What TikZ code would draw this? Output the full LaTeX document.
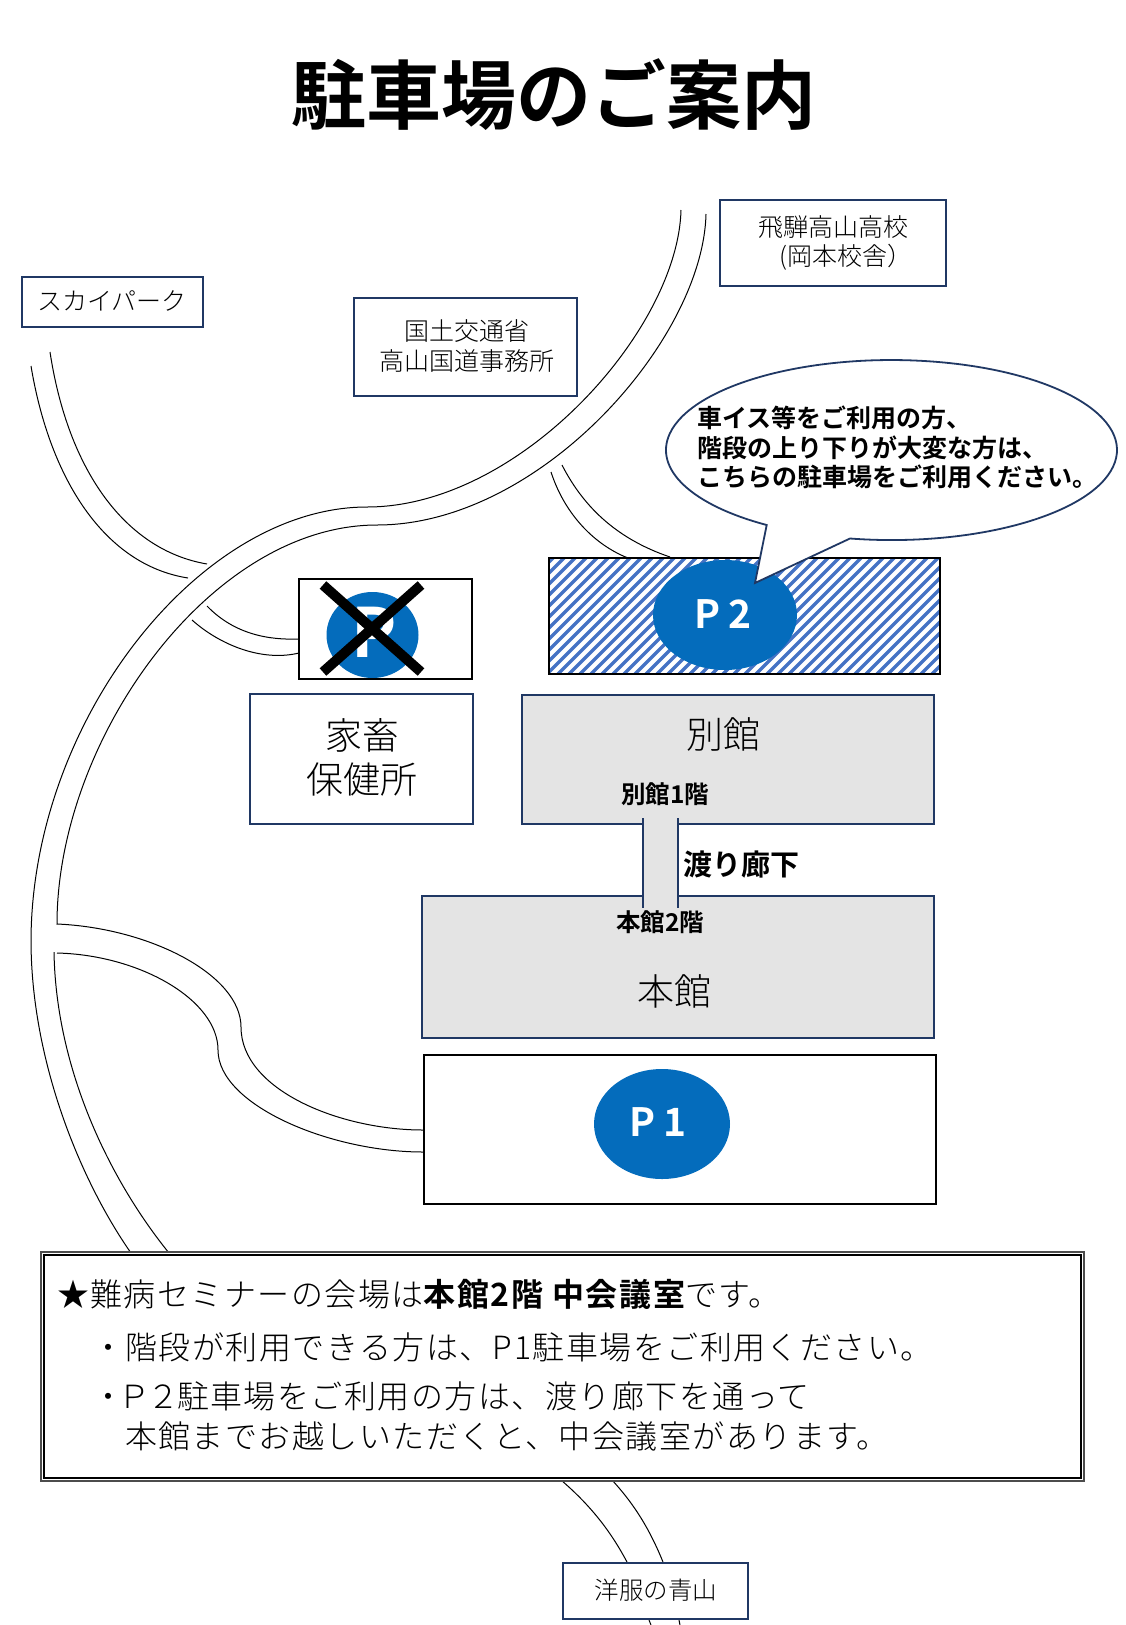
\documentclass[tikz,border=0pt]{standalone}
\usepackage{fontspec}
\setmainfont{Noto Sans CJK JP}
\newfontfamily\jplight{Noto Sans CJK JP Light}
\newfontfamily\jpsp[LetterSpace=4.6]{Noto Sans CJK JP Light}
\newfontfamily\jpbold{Noto Sans CJK JP Bold}
\newfontfamily\jpbsp[LetterSpace=5]{Noto Sans CJK JP Bold}
\definecolor{navy}{HTML}{203864}
\definecolor{pblue}{HTML}{046CBC}
\definecolor{hatchblue}{HTML}{4472C4}
\definecolor{bgray}{HTML}{E4E4E4}
\newcommand{\fs}[1]{\fontsize{#1}{#1}\selectfont}
\tikzset{
  road/.style={draw=black,line width=1pt},
  navybox/.style={draw=navy,line width=2pt,fill=white},
  blackbox/.style={draw=black,line width=2pt,fill=white},
  building/.style={draw=navy,line width=2pt,fill=bgray},
  pcircle/.style={fill=pblue},
  txt/.style={inner sep=0pt,outer sep=0pt,align=center,text=black},
  btxt/.style={inner sep=0pt,outer sep=0pt,anchor=base west,text=black},
  ptxt/.style={inner sep=0pt,outer sep=0pt,text=white},
}
\begin{document}
\begin{tikzpicture}[x=1pt,y=-1pt]
\useasboundingbox[fill=white] (0,0) rectangle (1125,1625);
% title
\node[txt,font=\jpbold\fs{75}] (title) at (554,95) {駐車場のご案内};
% roads
\draw[road] (681,210) .. controls (678,330) and (520,507) .. (367,507)
  .. controls (200,507) and (32,720) .. (31,940)
  .. controls (31,1060) and (80,1180) .. (131,1253);
\draw[road] (706,214) .. controls (703,340) and (540,525) .. (377,525)
  .. controls (210,525) and (57,740) .. (57,924)
  .. controls (150,928) and (241,975) .. (241,1027)
  .. controls (241,1090) and (340,1130) .. (423,1130);
\draw[road] (54,952) .. controls (56,1070) and (110,1180) .. (169,1253);
\draw[road] (57,953) .. controls (140,955) and (218,1000) .. (218,1050)
  .. controls (218,1105) and (330,1152) .. (423,1152);
\draw[road] (31,366) .. controls (50,480) and (105,565) .. (188,578);
\draw[road] (50,352) .. controls (68,470) and (125,550) .. (207,564);
\draw[road] (207,606) .. controls (235,635) and (270,640) .. (298,639);
\draw[road] (192,620) .. controls (220,645) and (262,662) .. (299,653);
\draw[road] (551,472) .. controls (565,515) and (595,545) .. (628,558);
\draw[road] (562,465) .. controls (585,510) and (620,540) .. (670,557);
\draw[road] (561,1480) .. controls (590,1505) and (610,1530) .. (627,1562);
\draw[road] (612,1480) .. controls (635,1505) and (650,1530) .. (663,1562);
\draw[road] (649,1620) -- (651,1625);
\draw[road] (679,1620) -- (680,1625);
% label boxes
\draw[navybox] (720,200) rectangle (946,286);
\node[txt,font=\jplight\fs{25}] (hida1) at (833,227) {飛騨高山高校};
\node[txt,font=\jplight\fs{25}] (hida2) at (846,257) {(岡本校舎）};
\draw[navybox] (22,277) rectangle (203,327);
\node[txt,font=\jplight\fs{25}] (sky) at (112,301) {スカイパーク};
\draw[navybox] (354,298) rectangle (577,396);
\node[txt,font=\jplight\fs{25}] (koku1) at (467,331) {国土交通省};
\node[txt,font=\jplight\fs{25}] (koku2) at (467,361) {高山国道事務所};
\draw[navybox] (563,1563) rectangle (748,1619);
\node[txt,font=\jplight\fs{24.5}] (yofuku) at (656,1590) {洋服の青山};
% P2 hatch
\begin{scope}
\clip (549,558) rectangle (940,674);
\fill[white] (549,558) rectangle (940,674);
\foreach \i in {0,...,49}{
  \draw[hatchblue,line width=3.4pt] ({420+\i*11},680) -- ({420+\i*11+130},550);
}
\end{scope}
\draw[draw=black,line width=2pt] (549,558) rectangle (940,674);
\fill[pcircle] (725,615) ellipse [x radius=72,y radius=55];
\node[ptxt,font=\jpbold\fs{39}] (p2) at (723,614) {P\hspace{8pt}2};
% callout
\draw[draw=navy,line width=1.8pt,fill=white,line join=miter]
  (755,583) -- (850,538.5)
  arc [start angle=100.6,end angle=-236.4,x radius=225.5,y radius=90] -- cycle;
\node[btxt,font=\jpbold\fs{25}] (call1) at (697,427) {車イス等をご利用の方、};
\node[btxt,font=\jpbold\fs{25}] (call2) at (697,457) {階段の上り下りが大変な方は、};
\node[btxt,font=\jpbold\fs{25}] (call3) at (697,486) {こちらの駐車場をご利用ください。};
% closed lot
\draw[blackbox] (299,579) rectangle (472,679);
\begin{scope}
\clip (299,579) rectangle (472,679);
\fill[pcircle] (372.5,635) ellipse [x radius=46,y radius=43];
\end{scope}
\node[ptxt,font=\jpbold\fs{68}] (pno) at (374,632) {P};
\draw[black,line width=10pt] (323,585) -- (421,672);
\draw[black,line width=10pt] (421,585) -- (323,672);
\draw[blackbox,fill=none] (299,579) rectangle (472,679);
% buildings
\draw[navybox] (250,694) rectangle (473,824);
\node[txt,font=\jplight\fs{37}] (kachiku1) at (362,735) {家畜};
\node[txt,font=\jplight\fs{37}] (kachiku2) at (362,780) {保健所};
\draw[building] (522,695) rectangle (934,824);
\node[txt,font=\jplight\fs{37}] (bekkan) at (723,734) {別館};
\draw[building] (422,896) rectangle (934,1038);
\node[txt,font=\jplight\fs{37}] (honkan) at (674,991) {本館};
% corridor
\fill[bgray] (643,818) rectangle (678,908);
\draw[navy,line width=2pt] (643,818) -- (643,908);
\draw[navy,line width=2pt] (678,818) -- (678,908);
\node[txt,font=\jpbold\fs{24.5}] (b1f) at (665,794) {別館1階};
\node[txt,font=\jpbold\fs{24.5}] (h2f) at (660,922) {本館2階};
\node[btxt,font=\jpbold\fs{29}] (wata) at (683,875) {渡り廊下};
% P1
\draw[blackbox] (424,1055) rectangle (936,1204);
\fill[pcircle] (662,1124) ellipse [x radius=68,y radius=55];
\node[ptxt,font=\jpbold\fs{39}] (p1) at (658,1122) {P\hspace{8pt}1};
% notice box
\draw[draw=black!70,line width=1.2pt,fill=white] (41,1252) rectangle (1084,1481);
\draw[draw=black,line width=1.2pt] (44,1255) rectangle (1081,1478);
\node[btxt,font=\jpsp\fs{32}] (n1) at (57,1306) {★難病セミナーの会場は{\jpbsp 本館2階 中会議室}です。};
\node[btxt,font=\jpsp\fs{32}] (n2) at (92,1359) {・階段が利用できる方は、P1駐車場をご利用ください。};
\node[btxt,font=\jpsp\fs{32}] (n3) at (92,1408) {・\kern-6ptＰ\kern-3pt２\kern-2pt駐車場をご利用の方は、渡り廊下を通って};
\node[btxt,font=\jpsp\fs{32}] (n4) at (125,1448) {本館までお越しいただくと、中会議室があります。};
\end{tikzpicture}
\end{document}
